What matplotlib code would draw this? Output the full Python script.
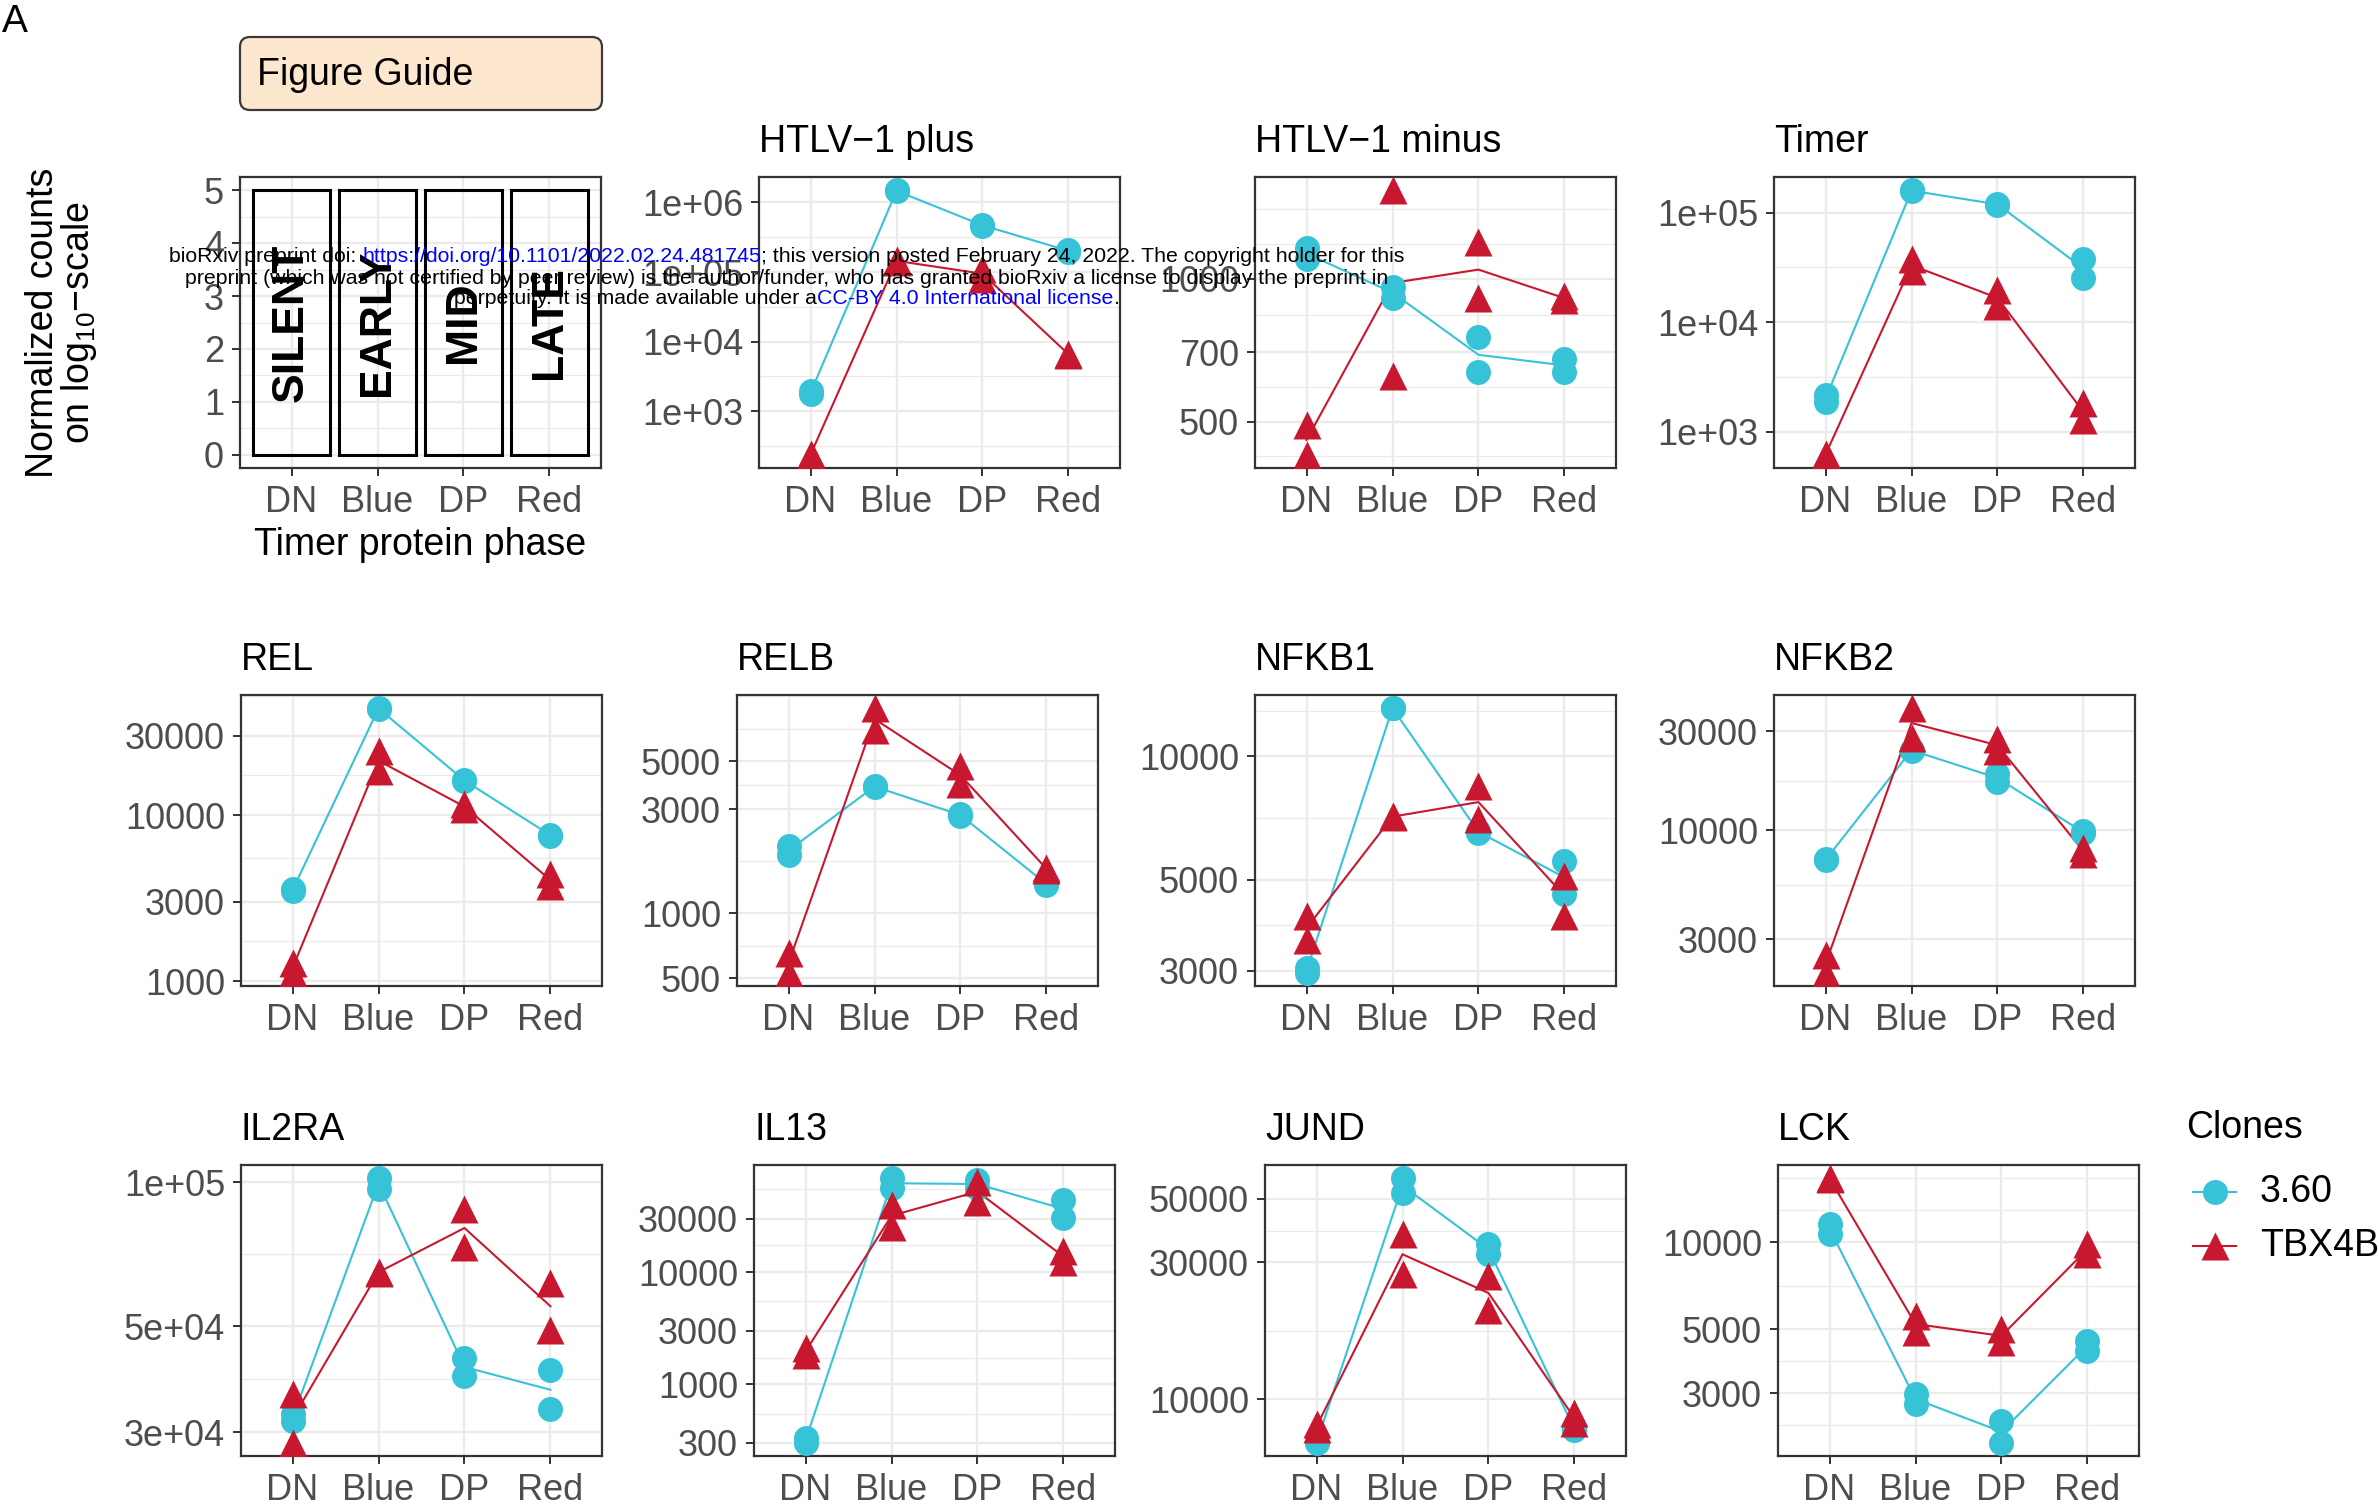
import matplotlib
matplotlib.use("Agg")
import matplotlib.pyplot as plt
from matplotlib.patches import FancyBboxPatch, Rectangle
from matplotlib.lines import Line2D
from matplotlib.transforms import IdentityTransform
from matplotlib.ticker import FixedLocator, NullFormatter
from matplotlib.font_manager import FontProperties
import numpy as np

plt.rcParams['font.family'] = ['Liberation Sans', 'DejaVu Sans']
plt.rcParams['mathtext.default'] = 'regular'

# ------------------------------------------------------------------ data
phases = ["DN", "Blue", "DP", "Red"]
clones = ["3.60", "TBX4B"]
clone_colors = ["#36C3D7", "#C8182F"]
clone_markers = ["o", "^"]

guide_labels = ["SILENT", "EARLY", "MID", "LATE"]
guide_ymin = 0
guide_ymax = 5
guide_ticks = [0, 1, 2, 3, 4, 5]

gene_titles = ["HTLV\u22121 plus", "HTLV\u22121 minus", "Timer",
               "REL", "RELB", "NFKB1", "NFKB2",
               "IL2RA", "IL13", "JUND", "LCK"]

# two replicates per phase (DN, Blue, DP, Red)
htlv_plus_360 = [[1750, 1950], [1.44e6, 1.5e6], [4.6e5, 4.8e5], [1.95e5, 2.1e5]]
htlv_plus_tbx = [[237, 240], [1.4e5, 1.5e5], [1.12e5, 8.0e4], [6500, 6700]]
htlv_minus_360 = [[1160, 1100], [960, 910], [752, 636], [678, 636]]
htlv_minus_tbx = [[492, 426], [1535, 625], [1197, 912], [920, 900]]
timer_360 = [[2170, 1885], [1.57e5, 1.6e5], [1.18e5, 1.2e5], [3.8e4, 2.54e4]]
timer_tbx = [[620, 630], [3.74e4, 2.93e4], [1.99e4, 1.4e4], [1820, 1280]]
rel_360 = [[3570, 3500], [4.37e4, 4.4e4], [1.63e4, 1.6e4], [7610, 7500]]
rel_tbx = [[1290, 1122], [2.44e4, 1.85e4], [1.16e4, 1.09e4], [4400, 3740]]
relb_360 = [[2046, 1841], [3850, 3800], [2852, 2800], [1369, 1350]]
relb_tbx = [[655, 531], [8770, 6980], [4750, 3910], [1620, 1580]]
nfkb1_360 = [[2970, 3050], [1.31e4, 1.31e4], [6590, 6500], [5570, 4620]]
nfkb1_tbx = [[4090, 3560], [7110, 7150], [8490, 7050], [5120, 4090]]
nfkb2_360 = [[7260, 7200], [2.41e4, 2.45e4], [1.87e4, 1.71e4], [9890, 9700]]
nfkb2_tbx = [[2530, 2070], [3.87e4, 2.79e4], [2.74e4, 2.41e4], [8240, 7670]]
il2ra_360 = [[3.27e4, 3.16e4], [1.02e5, 9.7e4], [4.28e4, 3.94e4], [4.04e4, 3.35e4]]
il2ra_tbx = [[3.6e4, 2.85e4], [6.47e4, 6.5e4], [8.81e4, 7.31e4], [6.17e4, 4.91e4]]
il13_360 = [[333, 301], [6.87e4, 5.6e4], [6.64e4, 5.6e4], [4.41e4, 3.03e4]]
il13_tbx = [[2100, 1840], [3.97e4, 2.55e4], [6.41e4, 4.26e4], [1.53e4, 1.24e4]]
jund_360 = [[7050, 7100], [5.9e4, 5.24e4], [3.47e4, 3.21e4], [7830, 7900]]
jund_tbx = [[8200, 7900], [3.76e4, 2.73e4], [2.7e4, 2.04e4], [8960, 8260]]
lck_360 = [[1.16e4, 1.07e4], [2980, 2750], [2410, 2020], [4560, 4210]]
lck_tbx = [[1.66e4, 1.67e4], [5570, 4880], [5000, 4500], [9870, 9120]]

htlv_plus_ticks = [1e3, 1e4, 1e5, 1e6]
htlv_plus_labels = ["1e+03", "1e+04", "1e+05", "1e+06"]
htlv_minus_ticks = [500, 700, 1000]
htlv_minus_labels = ["500", "700", "1000"]
timer_ticks = [1e3, 1e4, 1e5]
timer_labels = ["1e+03", "1e+04", "1e+05"]
rel_ticks = [1000, 3000, 10000, 30000]
rel_labels = ["1000", "3000", "10000", "30000"]
relb_ticks = [500, 1000, 3000, 5000]
relb_labels = ["500", "1000", "3000", "5000"]
nfkb1_ticks = [3000, 5000, 10000]
nfkb1_labels = ["3000", "5000", "10000"]
nfkb2_ticks = [3000, 10000, 30000]
nfkb2_labels = ["3000", "10000", "30000"]
il2ra_ticks = [3e4, 5e4, 1e5]
il2ra_labels = ["3e+04", "5e+04", "1e+05"]
il13_ticks = [300, 1000, 3000, 10000, 30000]
il13_labels = ["300", "1000", "3000", "10000", "30000"]
jund_ticks = [10000, 30000, 50000]
jund_labels = ["10000", "30000", "50000"]
lck_ticks = [3000, 5000, 10000]
lck_labels = ["3000", "5000", "10000"]

gene_series = [(htlv_plus_360, htlv_plus_tbx), (htlv_minus_360, htlv_minus_tbx),
               (timer_360, timer_tbx), (rel_360, rel_tbx), (relb_360, relb_tbx),
               (nfkb1_360, nfkb1_tbx), (nfkb2_360, nfkb2_tbx), (il2ra_360, il2ra_tbx),
               (il13_360, il13_tbx), (jund_360, jund_tbx), (lck_360, lck_tbx)]
gene_ticks = [(htlv_plus_ticks, htlv_plus_labels), (htlv_minus_ticks, htlv_minus_labels),
              (timer_ticks, timer_labels), (rel_ticks, rel_labels), (relb_ticks, relb_labels),
              (nfkb1_ticks, nfkb1_labels), (nfkb2_ticks, nfkb2_labels),
              (il2ra_ticks, il2ra_labels), (il13_ticks, il13_labels),
              (jund_ticks, jund_labels), (lck_ticks, lck_labels)]

# ------------------------------------------------------------------ layout (pixels)
W, H, DPI = 2379, 1508, 100
PW, PH = 361, 291
guide_pos = (240, 177)
gene_pos = [(759, 177), (1255, 177), (1774, 177),
            (241, 695), (737, 695), (1255, 695), (1774, 695),
            (241, 1165), (754, 1165), (1265, 1165), (1778, 1165)]

TICK_FS = 26
TEXT_FS = 27
MS = [18, 20]

fig = plt.figure(figsize=(W / DPI, H / DPI), dpi=DPI)
fig.patch.set_facecolor("white")
ID = IdentityTransform()


def px_axes(left, top):
    return fig.add_axes([left / W, 1 - (top + PH) / H, PW / W, PH / H])


def style_axes(ax):
    for s in ax.spines.values():
        s.set_color("#333333")
        s.set_linewidth(1.6)
    ax.tick_params(which="major", length=5.5, width=1.4, color="#333333",
                   labelsize=TICK_FS, labelcolor="#4D4D4D")
    ax.tick_params(axis="x", pad=7)
    ax.tick_params(axis="y", pad=6)
    ax.tick_params(which="minor", length=0)
    ax.set_axisbelow(True)
    ax.grid(which="major", color="#EBEBEB", lw=1.7)
    ax.grid(which="minor", axis="y", color="#EBEBEB", lw=0.9)
    ax.set_xlim(0.4, 4.6)
    ax.set_xticks(range(1, 5))
    ax.set_xticklabels(phases)


def minor_breaks(major, lo, hi):
    b = list(major)
    bd = b[1] - b[0]
    if lo < b[0]:
        b = [b[0] - bd] + b
    if hi > b[-1]:
        b = b + [b[-1] + bd]
    out = []
    for a, c in zip(b[:-1], b[1:]):
        out += [a, (a + c) / 2]
    out.append(b[-1])
    return [v for v in out if lo <= v <= hi]


# ---------------- guide panel
axg = px_axes(*guide_pos)
style_axes(axg)
for i, lab in enumerate(guide_labels):
    axg.add_patch(Rectangle((i + 1 - 0.45, guide_ymin), 0.9, guide_ymax - guide_ymin,
                            fill=False, ec="black", lw=2.2, zorder=2))
    axg.text(i + 1, (guide_ymin + guide_ymax) / 2, lab, rotation=90, ha="center",
             va="center", fontsize=32, fontweight="bold", color="black", zorder=3)
axg.set_ylim(guide_ymin - 0.05 * (guide_ymax - guide_ymin), guide_ymax + 0.05 * (guide_ymax - guide_ymin))
axg.set_yticks(guide_ticks)
axg.set_yticklabels([str(t) for t in guide_ticks])
lo, hi = axg.get_ylim()
axg.yaxis.set_minor_locator(FixedLocator(minor_breaks(guide_ticks, lo, hi)))
axg.yaxis.set_minor_formatter(NullFormatter())

# ---------------- gene panels
xs = np.arange(1, 5)
for (left, top), title, series, (ticks, labels) in zip(gene_pos, gene_titles, gene_series, gene_ticks):
    ax = px_axes(left, top)
    ax.set_yscale("log")
    for k, vals in enumerate(series):
        arr = np.array(vals, float)
        gm = 10 ** np.log10(arr).mean(axis=1)
        ax.plot(xs, gm, color=clone_colors[k], lw=1.5, zorder=2)
    for k, vals in enumerate(series):
        arr = np.array(vals, float)
        for j in range(arr.shape[1]):
            ax.plot(xs, arr[:, j], ls="none", marker=clone_markers[k],
                    ms=MS[k], color=clone_colors[k], mec="none", zorder=3)
    ax.margins(y=0.05)
    style_axes(ax)
    lim = ax.get_ylim()
    ax.set_yticks(ticks)
    ax.set_yticklabels(labels)
    ax.set_ylim(lim)
    lmaj = list(np.log10(ticks))
    mins = minor_breaks(lmaj, np.log10(lim[0]), np.log10(lim[1]))
    ax.yaxis.set_minor_locator(FixedLocator([10 ** v for v in mins]))
    ax.yaxis.set_minor_formatter(NullFormatter())
    ax.text(0, 1 + 24.5 / PH, title, transform=ax.transAxes, ha="left", va="baseline",
            fontsize=TEXT_FS, color="black")

# ---------------- guide decorations
fig.text(2, H - 4, "A", transform=ID, ha="left", va="top", fontsize=28, color="black")
box = FancyBboxPatch((240, H - 110), 362, 73, boxstyle="round,pad=0,rounding_size=10",
                     fc="#FDE7CF", ec="#3A3A3A", lw=1.6, transform=ID)
fig.add_artist(box)
fig.text(257, H - 85, "Figure Guide", transform=ID, ha="left", va="baseline",
         fontsize=TEXT_FS, color="black")
fig.text(62, H - 323, "Normalized counts\non log$_{10}$\u2212scale", transform=ID,
         rotation=90, ha="center", va="center", multialignment="center",
         fontsize=TEXT_FS, linespacing=0.95, color="black")
fig.text(420, H - 545, "Timer protein phase", transform=ID, ha="center", va="center",
         fontsize=TEXT_FS, color="black")

# ---------------- legend
fig.text(2186, H - 1128, "Clones", transform=ID, ha="left", va="center",
         fontsize=TEXT_FS, color="black")
for k, name in enumerate(clones):
    yk = H - (1192 + 54 * k)
    fig.add_artist(Line2D([2193, 2236], [yk, yk], color=clone_colors[k], lw=1.5, transform=ID))
    fig.add_artist(Line2D([2214.5], [yk], marker=clone_markers[k], ms=MS[k],
                          color=clone_colors[k], mec="none", ls="none", transform=ID))
    fig.text(2260, yk, name, transform=ID, ha="left", va="center", fontsize=TEXT_FS, color="black")

# ---------------- bioRxiv watermark
wm_lines = [
    [("bioRxiv preprint doi: ", "black"), ("https://doi.org/10.1101/2022.02.24.481745", "blue"),
     ("; this version posted February 24, 2022. The copyright holder for this", "black")],
    [("preprint (which was not certified by peer review) is the author/funder, who has granted bioRxiv a license to display the preprint in", "black")],
    [("perpetuity. It is made available under a", "black"), ("CC-BY 4.0 International license", "blue"), (".", "black")],
]
wm_y = [256, 278, 299]
renderer = fig.canvas.get_renderer()


def text_w(s, fs):
    prop = FontProperties(family=["Liberation Sans"], size=fs)
    w, h, d = renderer.get_text_width_height_descent(s, prop, ismath=False)
    return w


full1 = "".join(p for p, c in wm_lines[0])
wm_fs = 14 * 1245 / text_w(full1, 14)
xc = 787
for parts, yy in zip(wm_lines, wm_y):
    full = "".join(p for p, c in parts)
    x0 = xc - text_w(full, wm_fs) / 2
    prefix = ""
    bar = text_w("|", wm_fs)
    for s, c in parts:
        off = text_w(prefix + "|", wm_fs) - bar if prefix else 0
        fig.text(x0 + off, H - yy, s, transform=ID, ha="left", va="center",
                 fontsize=wm_fs, color=c, zorder=10)
        prefix += s

fig.savefig("out.png", dpi=DPI, facecolor="white")
